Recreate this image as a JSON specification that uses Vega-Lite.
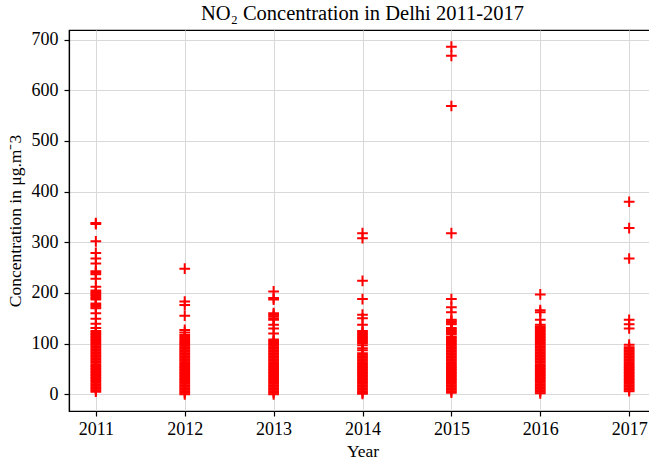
{
  "$schema": "https://vega.github.io/schema/vega-lite/v6.json",
  "autosize": {"type": "none"},
  "padding": {"left": 69, "top": 30, "right": 0, "bottom": 53},
  "width": 587,
  "height": 381,
  "background": "white",
  "config": {
    "font": "Liberation Serif",
    "view": {"stroke": "black", "strokeWidth": 1.2},
    "axis": {
      "labelFont": "Liberation Serif",
      "titleFont": "Liberation Serif",
      "labelFontSize": 18,
      "titleFontSize": 17.5,
      "titleFontWeight": "normal",
      "labelColor": "black",
      "titleColor": "black",
      "domainColor": "black",
      "domainWidth": 1.2,
      "tickColor": "black",
      "tickSize": 5,
      "tickWidth": 1.2,
      "gridColor": "#d9d9d9",
      "gridWidth": 1
    }
  },
  "title": {
    "text": "NO₂ Concentration in Delhi 2011-2017",
    "font": "Liberation Serif",
    "fontSize": 20.5,
    "fontWeight": "normal",
    "color": "black",
    "offset": 6
  },
  "data": {"values": [
    {"year":2011,"no2":338},{"year":2011,"no2":336},{"year":2011,"no2":302},{"year":2011,"no2":279},{"year":2011,"no2":268},{"year":2011,"no2":258},{"year":2011,"no2":243},{"year":2011,"no2":240},{"year":2011,"no2":237},{"year":2011,"no2":228},{"year":2011,"no2":212},{"year":2011,"no2":205},{"year":2011,"no2":202},{"year":2011,"no2":199},{"year":2011,"no2":196},{"year":2011,"no2":193},{"year":2011,"no2":190},{"year":2011,"no2":187},{"year":2011,"no2":179},{"year":2011,"no2":176},{"year":2011,"no2":173},{"year":2011,"no2":170},{"year":2011,"no2":160},{"year":2011,"no2":149},{"year":2011,"no2":139},{"year":2011,"no2":131},
    {"year":2011,"no2":125},{"year":2011,"no2":122},{"year":2011,"no2":119},{"year":2011,"no2":116},{"year":2011,"no2":113},{"year":2011,"no2":110},{"year":2011,"no2":107},{"year":2011,"no2":104},{"year":2011,"no2":101},{"year":2011,"no2":98},{"year":2011,"no2":95},{"year":2011,"no2":92},{"year":2011,"no2":89},{"year":2011,"no2":86},{"year":2011,"no2":83},{"year":2011,"no2":80},{"year":2011,"no2":77},{"year":2011,"no2":74},{"year":2011,"no2":71},{"year":2011,"no2":68},{"year":2011,"no2":65},{"year":2011,"no2":62},{"year":2011,"no2":59},{"year":2011,"no2":56},{"year":2011,"no2":53},{"year":2011,"no2":50},{"year":2011,"no2":47},{"year":2011,"no2":44},{"year":2011,"no2":41},{"year":2011,"no2":38},{"year":2011,"no2":35},{"year":2011,"no2":32},{"year":2011,"no2":29},{"year":2011,"no2":26},{"year":2011,"no2":23},{"year":2011,"no2":20},{"year":2011,"no2":17},{"year":2011,"no2":14},{"year":2011,"no2":11},{"year":2011,"no2":8},{"year":2011,"no2":5},
    {"year":2012,"no2":248},{"year":2012,"no2":183},{"year":2012,"no2":176},{"year":2012,"no2":155},{"year":2012,"no2":127},{"year":2012,"no2":122},{"year":2012,"no2":117},{"year":2012,"no2":113},{"year":2012,"no2":109},
    {"year":2012,"no2":105},{"year":2012,"no2":102},{"year":2012,"no2":99},{"year":2012,"no2":96},{"year":2012,"no2":93},{"year":2012,"no2":90},{"year":2012,"no2":87},{"year":2012,"no2":84},{"year":2012,"no2":81},{"year":2012,"no2":78},{"year":2012,"no2":75},{"year":2012,"no2":72},{"year":2012,"no2":69},{"year":2012,"no2":66},{"year":2012,"no2":63},{"year":2012,"no2":60},{"year":2012,"no2":57},{"year":2012,"no2":54},{"year":2012,"no2":51},{"year":2012,"no2":48},{"year":2012,"no2":45},{"year":2012,"no2":42},{"year":2012,"no2":39},{"year":2012,"no2":36},{"year":2012,"no2":33},{"year":2012,"no2":30},{"year":2012,"no2":27},{"year":2012,"no2":24},{"year":2012,"no2":21},{"year":2012,"no2":18},{"year":2012,"no2":15},{"year":2012,"no2":12},{"year":2012,"no2":9},{"year":2012,"no2":6},{"year":2012,"no2":3},{"year":2012,"no2":0},
    {"year":2013,"no2":203},{"year":2013,"no2":190},{"year":2013,"no2":187},{"year":2013,"no2":160},{"year":2013,"no2":157},{"year":2013,"no2":154},{"year":2013,"no2":150},{"year":2013,"no2":147},{"year":2013,"no2":137},{"year":2013,"no2":130},{"year":2013,"no2":120},
    {"year":2013,"no2":108},{"year":2013,"no2":105},{"year":2013,"no2":102},{"year":2013,"no2":99},{"year":2013,"no2":96},{"year":2013,"no2":93},{"year":2013,"no2":90},{"year":2013,"no2":87},{"year":2013,"no2":84},{"year":2013,"no2":81},{"year":2013,"no2":78},{"year":2013,"no2":75},{"year":2013,"no2":72},{"year":2013,"no2":69},{"year":2013,"no2":66},{"year":2013,"no2":63},{"year":2013,"no2":60},{"year":2013,"no2":57},{"year":2013,"no2":54},{"year":2013,"no2":51},{"year":2013,"no2":48},{"year":2013,"no2":45},{"year":2013,"no2":42},{"year":2013,"no2":39},{"year":2013,"no2":36},{"year":2013,"no2":33},{"year":2013,"no2":30},{"year":2013,"no2":27},{"year":2013,"no2":24},{"year":2013,"no2":21},{"year":2013,"no2":18},{"year":2013,"no2":15},{"year":2013,"no2":12},{"year":2013,"no2":9},{"year":2013,"no2":6},{"year":2013,"no2":3},{"year":2013,"no2":0},
    {"year":2014,"no2":318},{"year":2014,"no2":308},{"year":2014,"no2":224},{"year":2014,"no2":188},{"year":2014,"no2":157},{"year":2014,"no2":150},{"year":2014,"no2":137},
    {"year":2014,"no2":125},{"year":2014,"no2":122},{"year":2014,"no2":119},{"year":2014,"no2":116},{"year":2014,"no2":113},{"year":2014,"no2":110},{"year":2014,"no2":107},{"year":2014,"no2":104},{"year":2014,"no2":101},{"year":2014,"no2":97},{"year":2014,"no2":91},{"year":2014,"no2":87},{"year":2014,"no2":81},{"year":2014,"no2":78},{"year":2014,"no2":75},{"year":2014,"no2":72},{"year":2014,"no2":69},{"year":2014,"no2":66},{"year":2014,"no2":63},{"year":2014,"no2":60},{"year":2014,"no2":57},{"year":2014,"no2":54},{"year":2014,"no2":51},{"year":2014,"no2":48},{"year":2014,"no2":45},{"year":2014,"no2":42},{"year":2014,"no2":39},{"year":2014,"no2":36},{"year":2014,"no2":33},{"year":2014,"no2":30},{"year":2014,"no2":27},{"year":2014,"no2":24},{"year":2014,"no2":21},{"year":2014,"no2":18},{"year":2014,"no2":15},{"year":2014,"no2":12},{"year":2014,"no2":9},{"year":2014,"no2":6},{"year":2014,"no2":3},{"year":2014,"no2":1},
    {"year":2015,"no2":686},{"year":2015,"no2":668},{"year":2015,"no2":569},{"year":2015,"no2":318},{"year":2015,"no2":188},{"year":2015,"no2":172},{"year":2015,"no2":162},{"year":2015,"no2":147},{"year":2015,"no2":144},{"year":2015,"no2":141},{"year":2015,"no2":138},{"year":2015,"no2":131},{"year":2015,"no2":128},{"year":2015,"no2":125},{"year":2015,"no2":122},{"year":2015,"no2":119},
    {"year":2015,"no2":114},{"year":2015,"no2":111},{"year":2015,"no2":108},{"year":2015,"no2":105},{"year":2015,"no2":102},{"year":2015,"no2":99},{"year":2015,"no2":96},{"year":2015,"no2":93},{"year":2015,"no2":90},{"year":2015,"no2":87},{"year":2015,"no2":84},{"year":2015,"no2":81},{"year":2015,"no2":78},{"year":2015,"no2":75},{"year":2015,"no2":72},{"year":2015,"no2":69},{"year":2015,"no2":66},{"year":2015,"no2":63},{"year":2015,"no2":60},{"year":2015,"no2":57},{"year":2015,"no2":54},{"year":2015,"no2":51},{"year":2015,"no2":48},{"year":2015,"no2":45},{"year":2015,"no2":42},{"year":2015,"no2":39},{"year":2015,"no2":36},{"year":2015,"no2":33},{"year":2015,"no2":30},{"year":2015,"no2":27},{"year":2015,"no2":24},{"year":2015,"no2":21},{"year":2015,"no2":18},{"year":2015,"no2":15},{"year":2015,"no2":12},{"year":2015,"no2":9},{"year":2015,"no2":6},{"year":2015,"no2":3},
    {"year":2016,"no2":197},{"year":2016,"no2":166},{"year":2016,"no2":162},{"year":2016,"no2":147},
    {"year":2016,"no2":137},{"year":2016,"no2":134},{"year":2016,"no2":131},{"year":2016,"no2":128},{"year":2016,"no2":125},{"year":2016,"no2":122},{"year":2016,"no2":119},{"year":2016,"no2":116},{"year":2016,"no2":113},{"year":2016,"no2":110},{"year":2016,"no2":107},{"year":2016,"no2":104},{"year":2016,"no2":101},{"year":2016,"no2":98},{"year":2016,"no2":95},{"year":2016,"no2":92},{"year":2016,"no2":89},{"year":2016,"no2":86},{"year":2016,"no2":83},{"year":2016,"no2":80},{"year":2016,"no2":77},{"year":2016,"no2":74},{"year":2016,"no2":71},{"year":2016,"no2":68},{"year":2016,"no2":65},{"year":2016,"no2":62},{"year":2016,"no2":59},{"year":2016,"no2":56},{"year":2016,"no2":53},{"year":2016,"no2":50},{"year":2016,"no2":47},{"year":2016,"no2":44},{"year":2016,"no2":41},{"year":2016,"no2":38},{"year":2016,"no2":35},{"year":2016,"no2":32},{"year":2016,"no2":29},{"year":2016,"no2":26},{"year":2016,"no2":23},{"year":2016,"no2":20},{"year":2016,"no2":17},{"year":2016,"no2":14},{"year":2016,"no2":11},{"year":2016,"no2":8},{"year":2016,"no2":5},{"year":2016,"no2":2},
    {"year":2017,"no2":380},{"year":2017,"no2":328},{"year":2017,"no2":268},{"year":2017,"no2":147},{"year":2017,"no2":138},{"year":2017,"no2":130},{"year":2017,"no2":98},
    {"year":2017,"no2":93},{"year":2017,"no2":90},{"year":2017,"no2":87},{"year":2017,"no2":84},{"year":2017,"no2":81},{"year":2017,"no2":78},{"year":2017,"no2":75},{"year":2017,"no2":72},{"year":2017,"no2":69},{"year":2017,"no2":66},{"year":2017,"no2":63},{"year":2017,"no2":60},{"year":2017,"no2":57},{"year":2017,"no2":54},{"year":2017,"no2":51},{"year":2017,"no2":48},{"year":2017,"no2":45},{"year":2017,"no2":42},{"year":2017,"no2":39},{"year":2017,"no2":36},{"year":2017,"no2":33},{"year":2017,"no2":30},{"year":2017,"no2":27},{"year":2017,"no2":24},{"year":2017,"no2":21},{"year":2017,"no2":18},{"year":2017,"no2":15},{"year":2017,"no2":12},{"year":2017,"no2":9},{"year":2017,"no2":6}
  ]},
  "mark": {
    "type": "point",
    "shape": "M-1,0H1M0,-1V1",
    "filled": false,
    "stroke": "#ff0000",
    "strokeWidth": 2,
    "opacity": 1,
    "size": 115
  },
  "encoding": {
    "x": {
      "field": "year",
      "type": "quantitative",
      "scale": {"domain": [2010.698, 2017.302], "nice": false, "zero": false},
      "axis": {"values": [2011, 2012, 2013, 2014, 2015, 2016, 2017], "format": "d", "title": "Year", "labelPadding": 4, "titlePadding": 4, "grid": true}
    },
    "y": {
      "field": "no2",
      "type": "quantitative",
      "scale": {"domain": [-33, 719], "nice": false, "zero": false},
      "axis": {"values": [0, 100, 200, 300, 400, 500, 600, 700], "title": "Concentration in μg.m⁻3", "labelPadding": 6, "titlePadding": 7, "grid": true}
    }
  }
}
